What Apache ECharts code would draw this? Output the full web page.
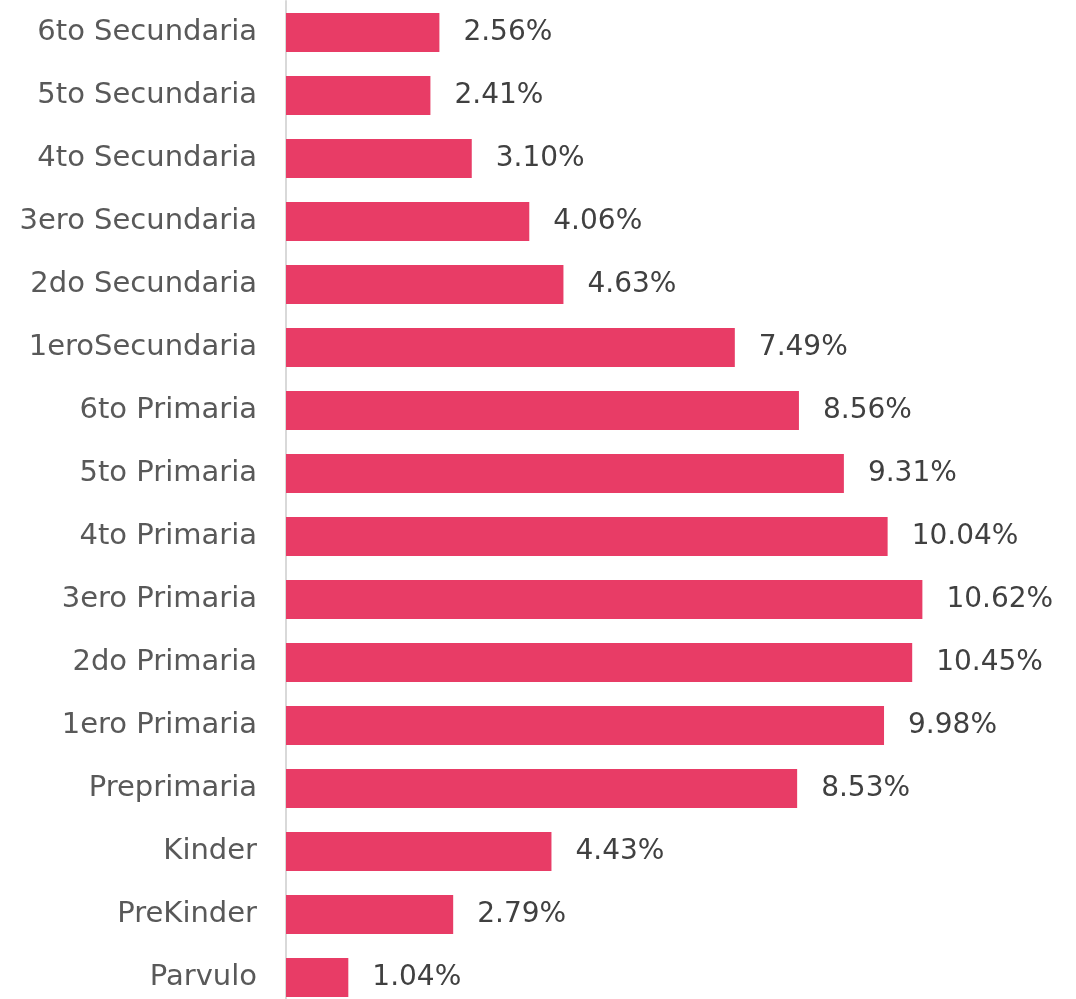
<!DOCTYPE html>
<html>
<head>
<meta charset="utf-8">
<style>
  html, body { margin: 0; padding: 0; background: #fff; }
  #chart { width: 1076px; height: 999px; }
</style>
<script src="https://cdn.jsdelivr.net/npm/echarts@6/dist/echarts.min.js"></script>
</head>
<body>
<div id="chart"></div>
<script>
  // bottom-to-top order, as the category axis draws it
  const grades = ['Parvulo', 'PreKinder', 'Kinder', 'Preprimaria', '1ero Primaria', '2do Primaria',
    '3ero Primaria', '4to Primaria', '5to Primaria', '6to Primaria', '1eroSecundaria',
    '2do Secundaria', '3ero Secundaria', '4to Secundaria', '5to Secundaria', '6to Secundaria']
  const shares = [1.04, 2.79, 4.43, 8.53, 9.98, 10.45, 10.62, 10.04, 9.31, 8.56, 7.49,
    4.63, 4.06, 3.10, 2.41, 2.56]

  const myChart = echarts.init(document.getElementById('chart'))
  myChart.setOption({
    animation: false,
    textStyle: { fontFamily: 'DejaVu Sans' },
    grid: { left: 286, top: 1, width: 779, height: 1008, outerBoundsMode: 'none' },
    xAxis: {
      type: 'value',
      min: 0,
      max: 13,
      show: false
    },
    yAxis: {
      type: 'category',
      data: grades,
      axisLine: { show: true, lineStyle: { color: '#d9d9d9', width: 2 } },
      axisTick: { show: false },
      axisLabel: { color: '#595959', fontSize: 29, margin: 29 }
    },
    series: [{
      type: 'bar',
      data: shares,
      barWidth: 39,
      itemStyle: { color: '#e83c66' },
      label: {
        show: true,
        position: 'right',
        distance: 24,
        color: '#404040',
        fontSize: 28,
        formatter: p => p.value.toFixed(2) + '%'
      }
    }]
  })
</script>
</body>
</html>
